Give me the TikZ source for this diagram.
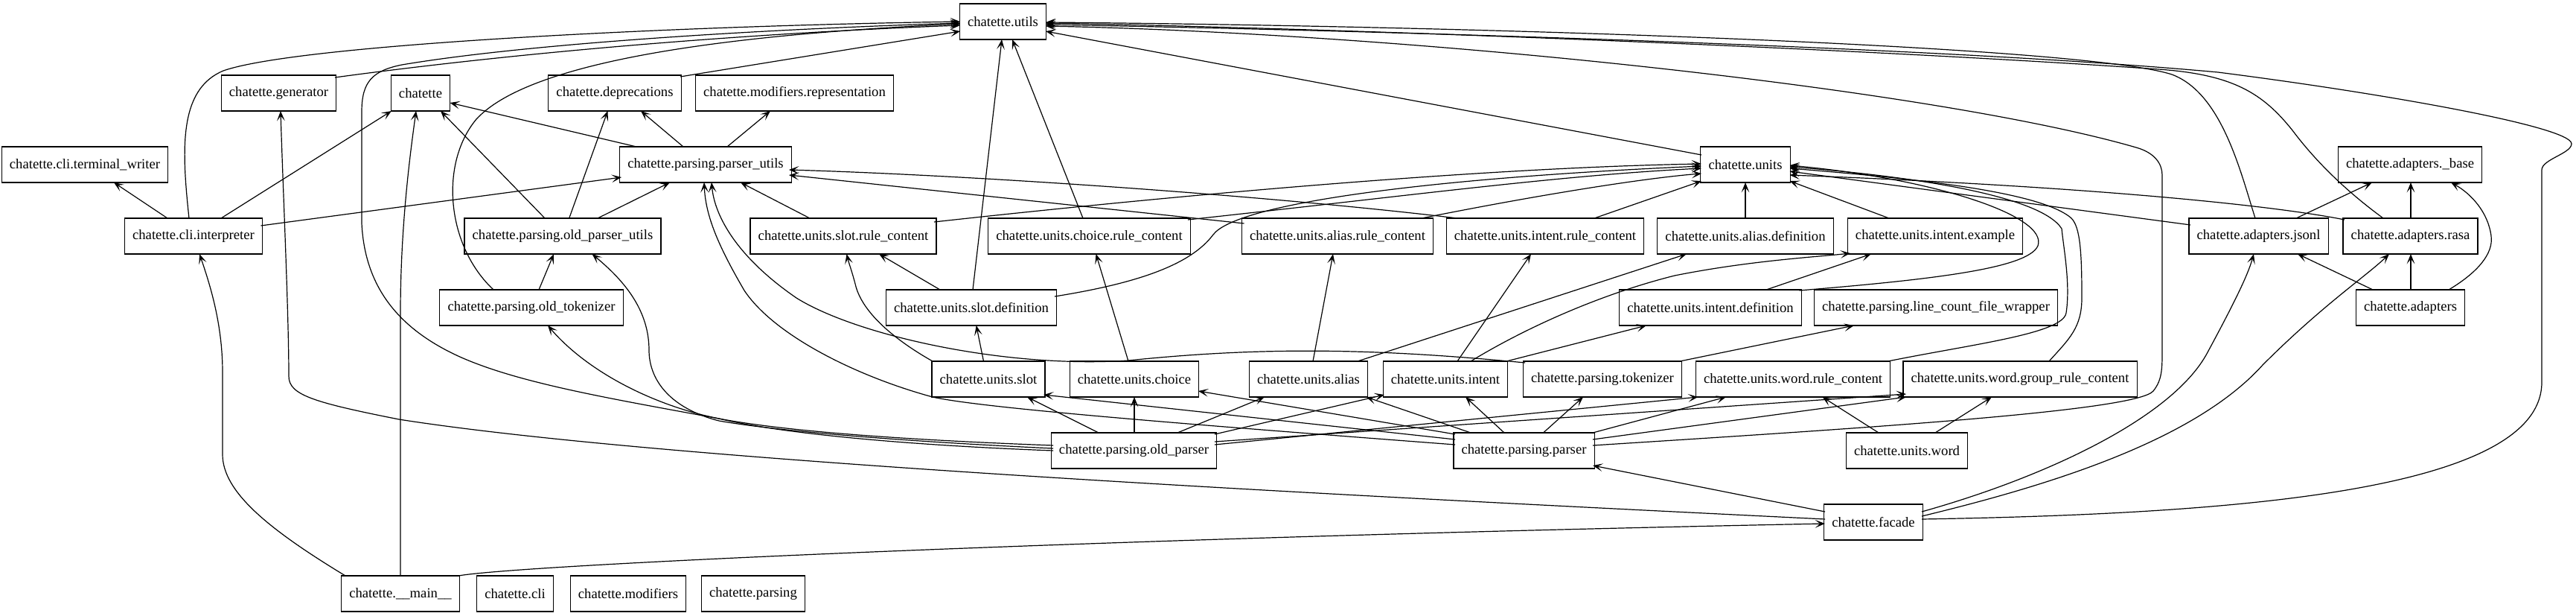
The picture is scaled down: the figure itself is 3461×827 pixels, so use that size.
\documentclass[tikz,border=0pt]{standalone}
\usepackage{fontspec}
\setmainfont{Liberation Serif}
\usetikzlibrary{arrows.meta,calc}
\begin{document}
\begin{tikzpicture}[x=0.75pt,y=-0.75pt,
  mod/.style={draw,line width=0.9pt,minimum height=36pt,inner xsep=8pt,inner ysep=0pt,font=\fontsize{14}{16}\selectfont},
  wd/.style={minimum width=#1*0.75pt},
  dep/.style={line width=0.9pt,-{Stealth[length=10pt,width=8pt,inset=5pt]}}]
\useasboundingbox[fill=white] (0,0) rectangle (3461,827);
% nodes
\node[mod,wd=115] (utils) at (1347.5,29) {chatette.utils};
\node[mod,wd=151] (gen) at (374.5,125) {chatette.generator};
\node[mod,wd=78] (chat) at (565,125) {chatette};
\node[mod,wd=175] (depr) at (826,125) {chatette.deprecations};
\node[mod,wd=260] (modrep) at (1067.5,125) {chatette.modifiers.representation};
\node[mod,wd=219] (tw) at (114,221) {chatette.cli.terminal\_writer};
\node[mod,wd=225] (pu) at (948,221) {chatette.parsing.parser\_utils};
\node[mod,wd=119] (units) at (2345,221) {chatette.units};
\node[mod,wd=190] (base) at (3238,221) {chatette.adapters.\_base};
\node[mod,wd=181] (interp) at (260,317) {chatette.cli.interpreter};
\node[mod,wd=257] (opu) at (756,317) {chatette.parsing.old\_parser\_utils};
\node[mod,wd=244] (slotrc) at (1133,317) {chatette.units.slot.rule\_content};
\node[mod,wd=265] (choicerc) at (1463.5,317) {chatette.units.choice.rule\_content};
\node[mod,wd=251] (aliasrc) at (1797,317) {chatette.units.alias.rule\_content};
\node[mod,wd=258] (intentrc) at (2076,317) {chatette.units.intent.rule\_content};
\node[mod,wd=230] (aliasdef) at (2345,317) {chatette.units.alias.definition};
\node[mod,wd=231] (intentex) at (2600,317) {chatette.units.intent.example};
\node[mod,wd=183] (jsonl) at (3034.5,317) {chatette.adapters.jsonl};
\node[mod,wd=177] (rasa) at (3238.5,317) {chatette.adapters.rasa};
\node[mod,wd=240] (otok) at (714,413) {chatette.parsing.old\_tokenizer};
\node[mod,wd=224] (slotdef) at (1305,413) {chatette.units.slot.definition};
\node[mod,wd=239] (intentdef) at (2298,413) {chatette.units.intent.definition};
\node[mod,wd=320] (lcfw) at (2601,413) {chatette.parsing.line\_count\_file\_wrapper};
\node[mod,wd=143] (adapters) at (3238.5,413) {chatette.adapters};
\node[mod,wd=149] (slot) at (1328,509) {chatette.units.slot};
\node[mod,wd=170] (choice) at (1524,509) {chatette.units.choice};
\node[mod,wd=156] (alias) at (1758,509) {chatette.units.alias};
\node[mod,wd=164] (intent) at (1942,509) {chatette.units.intent};
\node[mod,wd=208] (tok) at (2153,509) {chatette.parsing.tokenizer};
\node[mod,wd=255] (wordrc) at (2409,509) {chatette.units.word.rule\_content};
\node[mod,wd=306] (wordgrc) at (2714,509) {chatette.units.word.group\_rule\_content};
\node[mod,wd=217] (oparser) at (1523.5,605) {chatette.parsing.old\_parser};
\node[mod,wd=185] (parser) at (2047.5,605) {chatette.parsing.parser};
\node[mod,wd=160] (word) at (2562,605) {chatette.units.word};
\node[mod,wd=131] (facade) at (2517,701) {chatette.facade};
\node[mod,wd=156] (main) at (538,797) {chatette.\_\_main\_\_};
\node[mod,wd=101] (cli) at (692,797) {chatette.cli};
\node[mod,wd=154] (modif) at (844,797) {chatette.modifiers};
\node[mod,wd=136] (parsing) at (1012,797) {chatette.parsing};
% edges into utils (left side)
\draw[dep] ($(interp)+(-6,-24)$) .. controls (244,200) and (240,120) .. (300,95) .. controls (400,60) and (900,35) .. ($(utils)+(-57.5,0)$);
\draw[dep] ($(gen)+(75.5,-21)$) .. controls (700,70) and (1000,45) .. ($(utils)+(-57.5,5)$);
\draw[dep] ($(depr)+(88,-22)$) -- ($(utils)+(-57.5,13)$);
\draw[dep] ($(otok)+(-51,-24)$) .. controls (600,330) and (590,220) .. (640,160) .. controls (700,95) and (900,50) .. ($(utils)+(-57.5,3)$);
\draw[dep] ($(oparser)+(-108.5,-7)$) .. controls (1200,590) and (1050,578) .. (966,562) .. controls (820,535) and (700,515) .. (620,480) .. controls (530,440) and (490,380) .. (486,300) -- (486,150) .. controls (486,110) and (500,95) .. (540,87) .. controls (700,60) and (1000,40) .. ($(utils)+(-57.5,2)$);
% parser_utils and neighbours
\draw[dep] ($(interp)+(-35,-24)$) -- ($(tw)+(39,24)$);
\draw[dep] ($(interp)+(37,-24)$) -- ($(chat)+(-39,24)$);
\draw[dep] ($(interp)+(90.5,-14)$) -- ($(pu)+(-113,17)$);
\draw[dep] ($(pu)+(-93,-24)$) -- ($(chat)+(39.5,13)$);
\draw[dep] ($(pu)+(-30,-24)$) -- ($(depr)+(35,24)$);
\draw[dep] ($(pu)+(29,-24)$) -- ($(modrep)+(-32.5,24)$);
\draw[dep] ($(opu)+(-24,-24)$) -- ($(chat)+(27,24)$);
\draw[dep] ($(opu)+(8.7,-24)$) -- ($(depr)+(-9.5,24)$);
\draw[dep] ($(opu)+(47,-24)$) -- ($(pu)+(-48,24)$);
\draw[dep] ($(otok)+(10,-24)$) -- ($(opu)+(-12,24)$);
\draw[dep] ($(oparser)+(-108.5,-3)$) .. controls (1200,592) and (1040,578) .. (966,565) .. controls (900,548) and (872,510) .. (872,470) .. controls (872,410) and (830,370) .. ($(opu)+(39.5,24)$);
\draw[dep] ($(oparser)+(-108.5,0)$) .. controls (1200,597) and (1040,580) .. (966,562) .. controls (880,545) and (790,500) .. ($(otok)+(22,24)$);
\draw[dep] ($(slotrc)+(-45,-24)$) -- ($(pu)+(47,24)$);
\draw[dep] ($(aliasrc)+(-125.5,-17)$) -- ($(pu)+(112,14)$);
\draw[dep] ($(intentrc)+(-118,-24)$) .. controls (1700,262) and (1300,235) .. ($(pu)+(112,7)$);
\draw[dep] ($(parser)+(-92.5,-8)$) .. controls (1600,570) and (1320,548) .. (1253,533) .. controls (1150,505) and (1040,450) .. (1000,390) .. controls (965,330) and (948,290) .. ($(pu)+(-2,24)$);
\draw[dep] ($(tok)+(-104,-22)$) .. controls (1850,468) and (1700,465) .. (1516,484) .. controls (1350,495) and (1150,450) .. (1070,400) .. controls (990,345) and (960,290) .. ($(pu)+(8,24)$);
% into utils from below / right
\draw[dep] ($(slotdef)+(2,-24)$) -- ($(utils)+(-1.5,24)$);
\draw[dep] ($(choicerc)+(-8.5,-24)$) -- ($(utils)+(12.5,24)$);
\draw[dep] ($(units)+(-59,-13)$) -- ($(utils)+(57.5,13)$);
\draw[dep] ($(jsonl)+(-4.5,-24)$) .. controls (3010,230) and (2985,125) .. (2918,100) .. controls (2800,62) and (2000,35) .. ($(utils)+(57.5,1)$);
\draw[dep] ($(rasa)+(-36.5,-24)$) .. controls (3150,255) and (3110,215) .. (3080,175) .. controls (3040,125) and (3000,100) .. (2900,93) .. controls (2500,65) and (1800,38) .. ($(utils)+(57.5,2)$);
\draw[dep] ($(facade)+(65,-4)$) .. controls (3000,690) and (3415,660) .. (3415,513) -- (3415,228) .. controls (3415,214) and (3455,206) .. (3455,193) .. controls (3455,170) and (3200,125) .. (2980,97) .. controls (2600,62) and (1800,40) .. ($(utils)+(57.5,4)$);
\draw[dep] ($(parser)+(92.5,-7)$) .. controls (2500,575) and (2870,552) .. (2893,525) .. controls (2905,510) and (2905,495) .. (2905,470) -- (2905,235) .. controls (2905,220) and (2895,205) .. (2870,198) .. controls (2600,120) and (1900,45) .. ($(utils)+(57.5,6)$);
% into units
\draw[dep] ($(slotrc)+(122,-19)$) .. controls (1600,260) and (2000,225) .. ($(units)+(-59,-1)$);
\draw[dep] ($(choicerc)+(132.5,-22)$) .. controls (1900,262) and (2100,235) .. ($(units)+(-59,5)$);
\draw[dep] ($(slotdef)+(112,-15)$) .. controls (1530,380) and (1600,355) .. (1630,315) .. controls (1660,275) and (1900,240) .. ($(units)+(-59,2)$);
\draw[dep] ($(aliasrc)+(113,-24)$) .. controls (2050,265) and (2200,240) .. ($(units)+(-59,12)$);
\draw[dep] ($(intentrc)+(66,-24)$) -- ($(units)+(-59,22)$);
\draw[dep] ($(aliasdef)+(0,-24)$) -- ($(units)+(0,24)$);
\draw[dep] ($(intentex)+(-62,-24)$) -- ($(units)+(59.5,22)$);
\draw[dep] ($(intentdef)+(119.5,-23)$) .. controls (2600,375) and (2725,360) .. (2738,330) .. controls (2752,290) and (2600,240) .. ($(units)+(59.5,1)$);
\draw[dep] ($(wordrc)+(127.5,-24)$) .. controls (2650,462) and (2772,448) .. (2776,420) .. controls (2782,380) and (2772,330) .. (2770,307) .. controls (2740,260) and (2550,235) .. ($(units)+(59.5,3)$);
\draw[dep] ($(wordgrc)+(39,-24)$) .. controls (2780,455) and (2797,440) .. (2797,400) .. controls (2797,340) and (2795,305) .. (2783,293) .. controls (2740,255) and (2550,238) .. ($(units)+(59.5,5)$);
\draw[dep] ($(jsonl)+(-91.5,-15)$) -- ($(units)+(59.5,9)$);
\draw[dep] ($(rasa)+(-88.5,-22)$) .. controls (3050,275) and (2800,250) .. ($(units)+(59.5,14)$);
% adapters
\draw[dep] ($(jsonl)+(50.5,-24)$) -- ($(base)+(-51,24)$);
\draw[dep] ($(rasa)+(0.5,-24)$) -- ($(base)+(1,24)$);
\draw[dep] ($(adapters)+(51.5,-24)$) .. controls (3330,365) and (3350,340) .. (3347,317) .. controls (3343,285) and (3320,260) .. ($(base)+(55,24)$);
\draw[dep] ($(adapters)+(-50.5,-24)$) -- ($(jsonl)+(52.5,24)$);
\draw[dep] ($(adapters)+(0.5,-24)$) -- ($(rasa)+(0.5,24)$);
% facade
\draw[dep] ($(facade)+(65,-8)$) .. controls (2760,650) and (2950,590) .. (3040,490) .. controls (3120,410) and (3180,370) .. ($(rasa)+(-28.5,24)$);
\draw[dep] ($(facade)+(65,-14)$) .. controls (2750,640) and (2920,560) .. (2966,473) .. controls (3000,410) and (3020,370) .. ($(jsonl)+(-6.5,24)$);
\draw[dep] ($(facade)+(-65,-14)$) -- ($(parser)+(92.5,20)$);
\draw[dep] ($(facade)+(-65,-4)$) .. controls (1800,665) and (900,620) .. (536,563) .. controls (420,540) and (388,530) .. (388,505) .. controls (388,420) and (380,250) .. ($(gen)+(2.5,24)$);
% __main__
\draw[dep] ($(main)+(78,-24)$) .. controls (700,758) and (1500,722) .. ($(facade)+(-65,2)$);
\draw[dep] ($(main)+(-74,-24)$) .. controls (360,710) and (299,660) .. (299,610) -- (299,500) .. controls (299,440) and (285,390) .. ($(interp)+(8,24)$);
\draw[dep] ($(main)+(0,-24)$) -- (538,420) .. controls (538,300) and (552,200) .. ($(chat)+(-6,24)$);
% units rank 5
\draw[dep] ($(slot)+(-75,-24)$) .. controls (1200,455) and (1160,420) .. (1150,385) .. controls (1145,365) and (1140,352) .. ($(slotrc)+(4.5,24)$);
\draw[dep] ($(slot)+(-6.5,-24)$) -- ($(slotdef)+(6.7,24)$);
\draw[dep] ($(slotdef)+(-42,-24)$) -- ($(slotrc)+(48,24)$);
\draw[dep] ($(choice)+(-8,-24)$) -- ($(choicerc)+(9,24)$);
\draw[dep] ($(alias)+(6,-24)$) -- ($(aliasrc)+(-6,24)$);
\draw[dep] ($(alias)+(66,-24)$) -- ($(aliasdef)+(-79,24)$);
\draw[dep] ($(intent)+(16,-24)$) -- ($(intentrc)+(-19,24)$);
\draw[dep] ($(intent)+(34,-24)$) .. controls (2050,440) and (2150,395) .. (2250,370) .. controls (2350,350) and (2440,345) .. ($(intentex)+(-114,23)$);
\draw[dep] ($(intent)+(82,-24)$) -- ($(intentdef)+(-86,24)$);
\draw[dep] ($(intentdef)+(75,-24)$) -- ($(intentex)+(-86,24)$);
\draw[dep] ($(tok)+(104,-24)$) -- ($(lcfw)+(-110,24)$);
% parsers rank 6
\draw[dep] ($(parser)+(26,-24)$) -- ($(tok)+(-26,24)$);
\draw[dep] ($(parser)+(92.5,-24)$) -- ($(wordrc)+(-90,24)$);
\draw[dep] ($(parser)+(92.5,-15)$) -- ($(wordgrc)+(-153,24)$);
\draw[dep] ($(word)+(-38,-24)$) -- ($(wordrc)+(39.5,24)$);
\draw[dep] ($(word)+(38,-24)$) -- ($(wordgrc)+(-38,24)$);
\draw[dep] ($(oparser)+(108.5,-8)$) -- ($(wordrc)+(-127.5,24)$);
\draw[dep] ($(oparser)+(108.5,-12)$) -- ($(wordgrc)+(-153,20)$);
\draw[dep] ($(oparser)+(-47.5,-24)$) -- ($(slot)+(52,24)$);
\draw[dep] ($(oparser)+(0.5,-24)$) -- ($(choice)+(0,24)$);
\draw[dep] ($(oparser)+(58.5,-24)$) -- ($(alias)+(-59,24)$);
\draw[dep] ($(oparser)+(108.5,-22)$) -- ($(intent)+(-82,21)$);
\draw[dep] ($(parser)+(-92.5,-15)$) -- ($(slot)+(74,21)$);
\draw[dep] ($(parser)+(-92.5,-22)$) -- ($(choice)+(86,16)$);
\draw[dep] ($(parser)+(-71.5,-24)$) -- ($(alias)+(77.5,24)$);
\draw[dep] ($(parser)+(-26.5,-24)$) -- ($(intent)+(27,24)$);
\end{tikzpicture}
\end{document}
